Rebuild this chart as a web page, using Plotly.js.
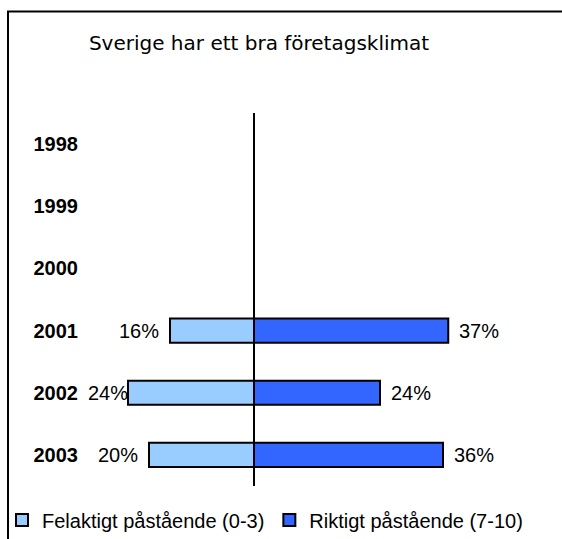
<!DOCTYPE html>
<html>
<head>
<meta charset="utf-8">
<script src="https://cdn.plot.ly/plotly-3.0.1.min.js"></script>
<style>html,body{margin:0;padding:0;background:#fff;}#chart{width:562px;height:539px;}</style>
</head>
<body>
<div id="chart"></div>
<script>
const years = ['1998', '1999', '2000', '2001', '2002', '2003'];
const felaktigt = [null, null, null, 16, 24, 20];
const riktigt = [null, null, null, 37, 24, 36];
const seriesNames = ['Felaktigt påstående (0-3)', 'Riktigt påstående (7-10)'];
const titleText = 'Sverige har ett bra företagsklimat';

const W = 562, H = 539;
const L = 82, R = 22, T = 113, B = 53;
const pw = W - L - R, ph = H - T - B;
const ZERO_PX = 254, PX_PER_PCT = 5.25;

const font = 'Arial, "Liberation Sans", sans-serif';

const traces = [
  {
    type: 'bar', orientation: 'h', name: seriesNames[0],
    y: years, x: felaktigt.map(v => v == null ? null : -v),
    marker: {color: '#99CCFF', line: {color: '#000', width: 2}},
    hoverinfo: 'skip'
  },
  {
    type: 'bar', orientation: 'h', name: seriesNames[1],
    y: years, x: riktigt,
    marker: {color: '#3366FF', line: {color: '#000', width: 2}},
    hoverinfo: 'skip'
  }
];

const annotations = [];
years.forEach((yr, i) => {
  if (felaktigt[i] != null) {
    // keep left labels clear of the year labels (they may overlap the bar, as in the original)
    const barEnd = ZERO_PX - felaktigt[i] * PX_PER_PCT;
    const rightEdge = Math.max(barEnd - 9, 130);
    annotations.push({
      x: -felaktigt[i], y: i, xref: 'x', yref: 'y', text: felaktigt[i] + '%',
      showarrow: false, xanchor: 'right', xshift: rightEdge - barEnd,
      font: {family: font, size: 20, color: '#000'}
    });
  }
  if (riktigt[i] != null) annotations.push({
    x: riktigt[i], y: i, xref: 'x', yref: 'y', text: riktigt[i] + '%',
    showarrow: false, xanchor: 'left', xshift: 9, font: {family: font, size: 20, color: '#000'}
  });
});

const px = v => (v - L) / pw;
const py = v => (H - B - v) / ph;

const layout = {
  width: W, height: H,
  margin: {l: L, r: R, t: T, b: B, pad: 0, autoexpand: false},
  paper_bgcolor: '#fff', plot_bgcolor: '#fff',
  showlegend: true,
  barmode: 'relative',
  bargap: 0.61,
  title: {
    text: titleText, x: 259 / W, xanchor: 'center', y: 1 - 43 / H, yanchor: 'middle',
    font: {family: '"DejaVu Sans", Verdana, sans-serif', size: 20, color: '#000'}
  },
  xaxis: {
    range: [-(ZERO_PX - L) / PX_PER_PCT, (W - R - ZERO_PX) / PX_PER_PCT],
    showticklabels: false, showgrid: false, ticks: '',
    zeroline: true, zerolinecolor: '#000', zerolinewidth: 1.5,
    fixedrange: true
  },
  yaxis: {
    type: 'category', categoryorder: 'array', categoryarray: years,
    range: [5.5, -0.5], autorange: false,
    showgrid: false, zeroline: false, ticks: '', showline: false,
    ticklabelstandoff: 3,
    tickfont: {family: font, size: 20, color: '#000', weight: 'bold'},
    fixedrange: true
  },
  legend: {
    orientation: 'h', xref: 'paper', yref: 'paper',
    x: px(2), xanchor: 'left', y: py(520), yanchor: 'middle',
    font: {family: font, size: 20, color: '#000'},
    itemwidth: 30, traceorder: 'normal', bgcolor: 'rgba(0,0,0,0)'
  },
  shapes: [{
    type: 'rect', xref: 'paper', yref: 'paper',
    x0: px(8), x1: px(580), y0: py(560), y1: py(11.5),
    line: {color: '#000', width: 2}, fillcolor: 'rgba(0,0,0,0)', layer: 'below'
  }],
  annotations: annotations
};

Plotly.newPlot('chart', traces, layout, {displayModeBar: false, staticPlot: true});
</script>
</body>
</html>
